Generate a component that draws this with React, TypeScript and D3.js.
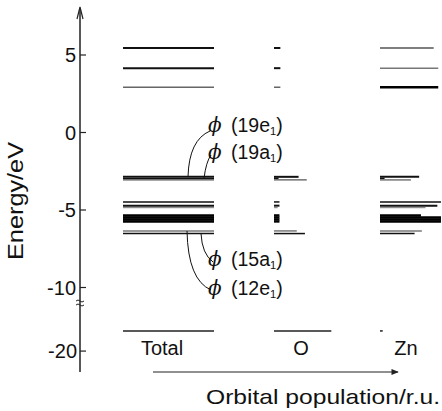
import React from "react";
import * as d3 from "d3";

// ---- data ----
const columns = ["Total", "O", "Zn"];
const energies = [5.45, 4.15, 2.92, -2.86, -2.96, -3.06, -4.48, -4.72, -4.85, -5.35, -5.48, -5.61, -5.74, -6.35, -6.52, -18.7];
const totalPop = [1, 1, 1, 1, 1, 1, 1, 1, 1, 1, 1, 1, 1, 1, 1, 1];
const oPop = [0.07, 0.07, 0.07, 0.27, 0.05, 0.36, 0.06, 0.06, 0.04, 0.06, 0.06, 0.06, 0.06, 0.25, 0.34, 0.63];
const znPop = [0.59, 0.64, 0.64, 0.43, 0.05, 0.34, 0.67, 0.63, 0.5, 0.45, 0.67, 0.67, 0.67, 0.46, 0.38, 0.03];
const upperTicks = [5, 0, -5, -10];
const lowerTicks = [-20];
const annotations = [
  { name: "19e", sub: "1", level: -2.86 },
  { name: "19a", sub: "1", level: -2.96 },
  { name: "15a", sub: "1", level: -6.52 },
  { name: "12e", sub: "1", level: -6.35 },
];

// ---- styles (not data) ----
const levelStroke = [2, 2, 1.5, 2, 1.5, 1.2, 1.5, 2, 1, 2.4, 2.4, 2.4, 2.4, 1.5, 1.5, 1.5];
const levelColor = ["#111", "#111", "#666", "#111", "#111", "#555", "#111", "#111", "#777", "#000", "#000", "#000", "#000", "#777", "#111", "#222"];
const znStroke = [1.5, 1.6, 2.4];
const znColor = ["#555", "#777", "#000"];

const W = 442, H = 411;
const axisX = 80;
const colStart = [123, 274, 380];
const font = "'Liberation Sans', Arial, Helvetica, sans-serif";

export default function App() {
  const yUp = d3.scaleLinear().domain([-11, 8]).range([132.5 + 11 * 15.5, 132.5 - 8 * 15.5]);
  const yLow = d3.scaleLinear().domain([-21.35, -18]).range([372, 372 - 3.35 * 15.5]);
  const y = (e: number) => (e < -12 ? yLow(e) : yUp(e));
  const xPop = d3.scaleLinear().domain([0, 1]).range([0, 91]);
  const pops = [totalPop, oPop, znPop];

  const leaders = [
    { sx: 188, ex: 210, ey: 131, cx: 189, cy: 140 },
    { sx: 204, ex: 211, ey: 155, cx: 206, cy: 162 },
    { sx: 201, ex: 213, ey: 262, cx: 202, cy: 254 },
    { sx: 187, ex: 211, ey: 290, cx: 188, cy: 280 },
  ];
  const labelBase = [132, 159, 266, 295];

  return (
    <svg width={W} height={H} style={{ position: "absolute", left: 0, top: 0, background: "#fff" }} fontFamily={font}>
      <defs>
        <marker id="arr" viewBox="0 0 10 10" refX="9" refY="5" markerWidth="8" markerHeight="6" orient="auto">
          <path d="M0,1 L10,5 L0,9 z" fill="#222" />
        </marker>
      </defs>
      {columns.map((c, ci) =>
        energies.map((e, i) => {
          const len = xPop(pops[ci][i]);
          if (len <= 0) return null;
          const isZnTop = ci === 2 && i < 3;
          return (
            <line key={c + i} x1={colStart[ci]} x2={colStart[ci] + len} y1={y(e)} y2={y(e)}
              stroke={isZnTop ? znColor[i] : levelColor[i]} strokeWidth={isZnTop ? znStroke[i] : levelStroke[i]} />
          );
        })
      )}
      <line x1={axisX} x2={axisX} y1={372} y2={9} stroke="#222" strokeWidth={1.5} />
      <path d={`M${axisX - 3},${19} L${axisX},${7} L${axisX + 3},${19}`} fill="none" stroke="#222" strokeWidth={1.2} />
      <path d={`M${axisX - 4},301 q2,-2 4,0 q2,2 4,0 M${axisX - 4},305 q2,-2 4,0 q2,2 4,0`} fill="none" stroke="#222" strokeWidth={1} />
      {upperTicks.map((t) => (
        <g key={t}>
          <line x1={axisX} x2={axisX + 6} y1={yUp(t)} y2={yUp(t)} stroke="#222" strokeWidth={1.2} />
          <text x={76} y={yUp(t)} dy="0.36em" textAnchor="end" fontSize={20} fill="#111">{String(t)}</text>
        </g>
      ))}
      {lowerTicks.map((t) => (
        <g key={t}>
          <line x1={axisX} x2={axisX + 6} y1={yLow(t)} y2={yLow(t)} stroke="#222" strokeWidth={1.2} />
          <text x={77} y={yLow(t)} dy="0.36em" textAnchor="end" fontSize={20} fill="#111">{String(t)}</text>
        </g>
      ))}
      <text transform={`translate(23,201) rotate(-90)`} textAnchor="middle" fontSize={22} fill="#111" textLength={118} lengthAdjust="spacingAndGlyphs">Energy/eV</text>
      <text x={162} y={355} textAnchor="middle" fontSize={20} fill="#111">{columns[0]}</text>
      <text x={301} y={355} textAnchor="middle" fontSize={20} fill="#111">{columns[1]}</text>
      <text x={406} y={355} textAnchor="middle" fontSize={20} fill="#111">{columns[2]}</text>
      <line x1={153} x2={398} y1={372} y2={372} stroke="#222" strokeWidth={1.2} markerEnd="url(#arr)" />
      <text x={206} y={404} fontSize={21} fill="#111" textLength={234} lengthAdjust="spacingAndGlyphs">Orbital population/r.u.</text>
      {annotations.map((a, i) => {
        const L = leaders[i];
        const sy = y(a.level);
        return (
          <g key={a.name}>
            <path d={`M${L.sx},${sy} Q${L.cx},${L.cy} ${L.ex},${L.ey}`} fill="none" stroke="#111" strokeWidth={1} />
            <text x={208} y={labelBase[i]} fontSize={20} fill="#111" fontStyle="italic" fontFamily="'DejaVu Serif', serif">ϕ</text>
            <text x={231} y={labelBase[i]} fontSize={19.5} fill="#111">
              ({a.name}<tspan fontSize={11} dy={3}>{a.sub}</tspan><tspan dy={-3}>)</tspan>
            </text>
          </g>
        );
      })}
    </svg>
  );
}
